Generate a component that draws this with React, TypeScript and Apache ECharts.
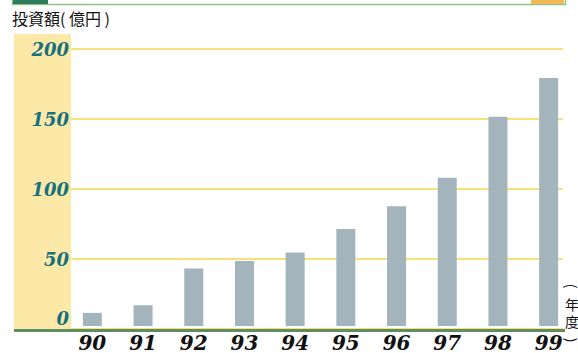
import React, { useEffect, useRef } from "react";
import * as echarts from "echarts";

const years = ["90", "91", "92", "93", "94", "95", "96", "97", "98", "99"];
const investment = [9.5, 15, 41.5, 47, 53, 70, 86.5, 107, 151, 179];
const yTicks = [0, 50, 100, 150, 200];
const yAxisTitle = "投資額( 億円 )";
const xAxisTitleChars = ["(", "年", "度", ")"];

export default function App() {
  const ref = useRef<HTMLDivElement>(null);
  useEffect(() => {
    const chart = echarts.init(ref.current!, null, { renderer: "svg" });
    const serif = "'DejaVu Serif', 'Liberation Serif', serif";
    const cjk = "'Noto Sans CJK JP', 'Noto Sans', sans-serif";
    const titleY = [286, 304, 321, 340];
    const xTitle = xAxisTitleChars.map((ch, i) => ({
      type: "text",
      x: 572,
      y: titleY[i],
      rotation: ch === "(" || ch === ")" ? -Math.PI / 2 : 0,
      style: {
        text: ch,
        fill: "#111",
        font: "14px " + cjk,
        align: "center",
        verticalAlign: "middle",
      },
    }));
    chart.setOption({
      animation: false,
      backgroundColor: "#ffffff",
      grid: [
        { left: 71, right: 15, top: 49, bottom: 24 },
        { left: 67, right: 4, top: 49, bottom: 24 },
      ],
      xAxis: [
        {
          gridIndex: 0,
          type: "value",
          min: 0,
          max: 1,
          show: false,
        },
        {
          gridIndex: 1,
          type: "category",
          data: years,
          axisLine: { show: false },
          axisTick: { show: false },
          axisLabel: {
            color: "#111",
            fontFamily: serif,
            fontStyle: "italic",
            fontWeight: "bold",
            fontSize: 20,
            margin: 7,
          },
        },
      ],
      yAxis: [
        {
          gridIndex: 0,
          type: "value",
          min: yTicks[0],
          max: yTicks[yTicks.length - 1],
          interval: 50,
          axisLine: { show: false },
          axisTick: { show: false },
          splitLine: { lineStyle: { color: "#f6d74c", width: 1.5 } },
          axisLabel: {
            margin: 2,
            formatter: (v: number) => (v === 0 ? "{z|" + v + "}" : "{n|" + v + "}"),
            rich: {
              n: {
                color: "#16707f",
                fontFamily: serif,
                fontStyle: "italic",
                fontWeight: "bold",
                fontSize: 18,
              },
              z: {
                color: "#16707f",
                fontFamily: serif,
                fontStyle: "italic",
                fontWeight: "bold",
                fontSize: 18,
                padding: [0, 0, 21, 0],
              },
            },
          },
        },
        {
          gridIndex: 1,
          type: "value",
          min: yTicks[0],
          max: yTicks[yTicks.length - 1],
          show: false,
          splitLine: { show: false },
        },
      ],
      graphic: [
        {
          type: "rect",
          z: -10,
          shape: { x: 14, y: 34, width: 57, height: 296 },
          style: { fill: "#fde9a7" },
        },
        {
          type: "rect",
          z: 10,
          shape: { x: 14, y: 329, width: 551, height: 3 },
          style: { fill: "#5d8d60" },
        },
        {
          type: "rect",
          shape: { x: 12.5, y: -3, width: 553, height: 7.5 },
          style: { fill: "#ffffff", stroke: "#8cc48c", lineWidth: 1.5 },
        },
        {
          type: "rect",
          shape: { x: 13, y: 0, width: 35, height: 4 },
          style: { fill: "#2f7a5c" },
        },
        {
          type: "rect",
          shape: { x: 531, y: 0, width: 33, height: 4 },
          style: { fill: "#f2b955" },
        },
        {
          type: "text",
          left: 12,
          top: 10,
          style: {
            text: yAxisTitle,
            fill: "#111",
            font: "16px " + cjk,
          },
        },
        ...xTitle,
      ],
      series: [
        {
          type: "bar",
          xAxisIndex: 1,
          yAxisIndex: 1,
          data: investment,
          barWidth: 19,
          itemStyle: { color: "#a3b4bd" },
        },
      ],
    });
    return () => chart.dispose();
  }, []);
  return (
    <div
      ref={ref}
      style={{ position: "fixed", left: 0, top: 0, width: 578, height: 353 }}
    />
  );
}
